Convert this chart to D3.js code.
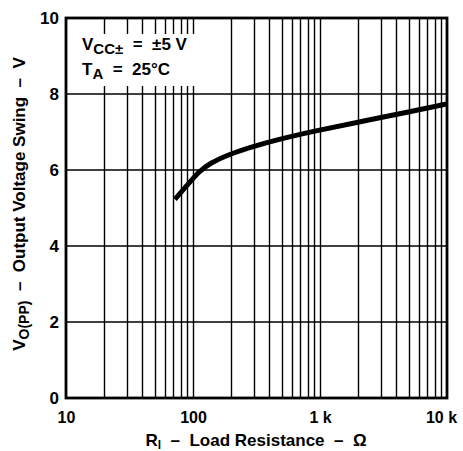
<!DOCTYPE html>
<html><head><meta charset="utf-8">
<script src="https://cdn.jsdelivr.net/npm/d3@7"></script>
<style>body{margin:0;background:#fff}svg{display:block}text{font-family:"Liberation Sans",Arial,sans-serif;font-weight:bold;fill:#000;white-space:pre}</style>
</head><body>
<script>
const resistance = [72, 89, 112, 136, 195, 298, 450, 885, 2070, 5000, 10000];
const voltage = [5.23, 5.58, 5.97, 6.18, 6.42, 6.62, 6.79, 7.02, 7.27, 7.53, 7.74];
const xTickValues = [10, 100, 1000, 10000];
const xTickLabels = ["10", "100", "1 k", "10 k"];
const yTickValues = [0, 2, 4, 6, 8, 10];

const W = 463, H = 451;
const m = {l: 66, r: 16, t: 18, b: 53};
const svg = d3.select("body").append("svg").attr("width", W).attr("height", H);
const x = d3.scaleLog().domain([10, 10000]).range([m.l, W - m.r]);
const y = d3.scaleLinear().domain([0, 10]).range([H - m.b, m.t]);

// grid verticals
const minor = [];
for (let d = 10; d < 10000; d *= 10) for (let k = 1; k <= 9; k++) minor.push(d * k);
const g = svg.append("g");
g.selectAll("line.v").data(minor.filter(v => v > 10 && v < 10000)).join("line")
  .attr("x1", d => Math.round(x(d)) + 0.5).attr("x2", d => Math.round(x(d)) + 0.5)
  .attr("y1", y(10)).attr("y2", y(0)).attr("stroke", "#000").attr("stroke-width", 1.4);
g.selectAll("line.h").data(yTickValues.filter(v => v > 0 && v < 10)).join("line")
  .attr("x1", x(10)).attr("x2", x(10000)).attr("y1", d => y(d)).attr("y2", d => y(d))
  .attr("stroke", "#000").attr("stroke-width", 1.4);

// annotation box (white background)
svg.append("rect").attr("x", 74).attr("y", 34).attr("width", 122).attr("height", 52).attr("fill", "#fff");
const t1 = svg.append("text").attr("x", 82).attr("y", 50).attr("font-size", 17);
t1.append("tspan").text("V");
t1.append("tspan").attr("dy", 4).attr("font-size", 15).text("CC±");
t1.append("tspan").attr("dy", -4).text("  =  ±5 V");
const t2 = svg.append("text").attr("x", 82).attr("y", 75).attr("font-size", 17);
t2.append("tspan").text("T");
t2.append("tspan").attr("dy", 4).attr("font-size", 15).text("A");
t2.append("tspan").attr("dy", -4).text("  =  25°C");

// frame
svg.append("rect").attr("x", x(10)).attr("y", y(10)).attr("width", x(10000) - x(10)).attr("height", y(0) - y(10))
  .attr("fill", "none").attr("stroke", "#000").attr("stroke-width", 2.8);

// curve
const line = d3.line().x((d, i) => x(resistance[i])).y(d => y(d)).curve(d3.curveBasis);
svg.append("path").attr("d", line(voltage)).attr("fill", "none").attr("stroke", "#000")
  .attr("stroke-width", 5).attr("stroke-linecap", "butt");

// axes labels
const xa = d3.axisBottom(x).tickValues(xTickValues).tickFormat((d, i) => xTickLabels[i]).tickSize(0).tickPadding(0);
const xg = svg.append("g").attr("transform", `translate(0,${y(0)})`).call(xa);
xg.select(".domain").remove();
xg.selectAll("text").attr("font-size", 16).attr("y", 14).attr("dy", "0.71em").attr("fill", "#000")
  .style("font-family", "Liberation Sans").style("font-weight", "bold");
xg.selectAll(".tick").filter(d => d === 10000).select("text").attr("x", -6);

const ya = d3.axisLeft(y).tickValues(yTickValues).tickFormat(d3.format("d")).tickSize(0).tickPadding(0);
const yg = svg.append("g").attr("transform", `translate(${x(10)},0)`).call(ya);
yg.select(".domain").remove();
yg.selectAll("text").attr("font-size", 17).attr("x", -7).attr("fill", "#000")
  .style("font-family", "Liberation Sans").style("font-weight", "bold");

// x title
const xt = svg.append("text").attr("x", 256).attr("y", 446).attr("text-anchor", "middle").attr("font-size", 17);
xt.append("tspan").text("R");
xt.append("tspan").attr("dy", 3).attr("font-size", 12).text("l");
xt.append("tspan").attr("dy", -3).text("  –  Load Resistance  –  Ω");

// y title
const yt = svg.append("text").attr("transform", "translate(25,204) rotate(-90)").attr("text-anchor", "middle").attr("font-size", 17);
yt.append("tspan").text("V");
yt.append("tspan").attr("dy", 4).attr("font-size", 14).text("O(PP)");
yt.append("tspan").attr("dy", -4).text("  –  Output Voltage Swing  –  V");
</script>
</body></html>
